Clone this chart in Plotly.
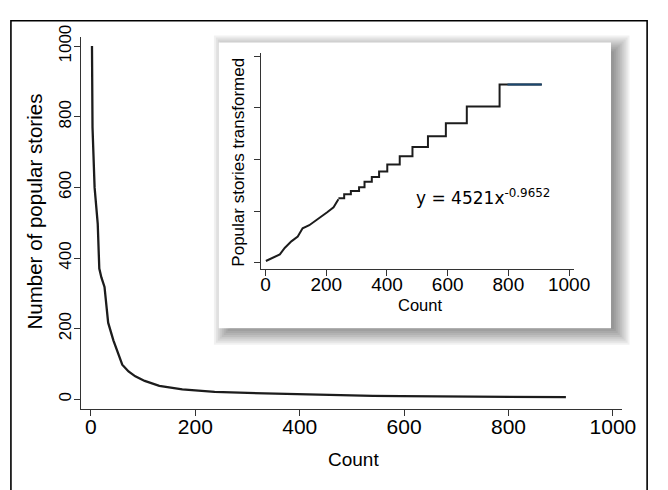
import plotly.graph_objects as go

# The page body has an 8px margin, so the figure is drawn 8px in from the
# window's corner; all pixel positions below are window positions.
PAGE_OFF = 8
W, H = 668 - PAGE_OFF, 490 - PAGE_OFF

# ---- main series: number of popular stories vs count ----
main_x = [2, 3, 7, 13, 16, 20, 26, 33, 43, 50, 60, 72, 85, 103, 131, 175, 237,
          300, 400, 484, 540, 594, 663, 771, 910]
main_y = [1000, 770, 600, 497, 370, 345, 318, 217, 167, 139, 98, 79, 65, 52, 38,
          28, 21, 18, 14, 11, 10, 9, 8, 7, 6]

# ---- inset: transformed values (smooth part, then steps) ----
inset_smooth_x = [1, 47, 63, 85, 106, 122, 144, 176, 203, 224, 240]
inset_smooth_y = [9, 41, 72, 104, 127, 167, 182, 214, 245, 269, 308]
inset_step_x = [240, 259, 281, 308, 326, 350, 374, 401, 442, 484, 535, 594, 663, 771, 910]
inset_step_y = [313, 332, 348, 366, 392, 415, 442, 476, 516, 560, 612, 675, 756, 862, 862]
fit_x = [797, 910]
fit_y = [862, 862]

x_ticks = [0, 200, 400, 600, 800, 1000]
y_ticks = [0, 200, 400, 600, 800, 1000]
inset_y_ticks = [0, 250, 500, 750, 1000]

FONT = "Liberation Sans, Arial, Helvetica, sans-serif"
LINE = "#1c1c1c"
MAIN_XR = [-18.7, 1017]
MAIN_YR = [-27.6, 1027]
INS_XR = [-16, 1016]
INS_YR = [-28, 1014]


def px(x):
    return (x - PAGE_OFF) / W


def py(y):
    return 1 - (y - PAGE_OFF) / H


fig = go.Figure()
fig.add_trace(go.Scatter(x=main_x, y=main_y, mode="lines",
                         line=dict(color=LINE, width=2.3), xaxis="x", yaxis="y",
                         showlegend=False, hoverinfo="skip"))
fig.add_trace(go.Scatter(x=inset_smooth_x, y=inset_smooth_y, mode="lines",
                         line=dict(color=LINE, width=2), xaxis="x2", yaxis="y2",
                         showlegend=False, hoverinfo="skip"))
fig.add_trace(go.Scatter(x=inset_step_x, y=inset_step_y, mode="lines",
                         line=dict(color=LINE, width=2, shape="hv"), xaxis="x2", yaxis="y2",
                         showlegend=False, hoverinfo="skip"))
fig.add_trace(go.Scatter(x=fit_x, y=fit_y, mode="lines",
                         line=dict(color="#1a476f", width=2), xaxis="x2", yaxis="y2",
                         showlegend=False, hoverinfo="skip"))
# carriers for the label-only overlay axes (invisible)
fig.add_trace(go.Scatter(x=[x_ticks[0]], y=[y_ticks[0]], mode="markers",
                         marker=dict(opacity=0), xaxis="x3", yaxis="y",
                         showlegend=False, hoverinfo="skip"))
fig.add_trace(go.Scatter(x=[x_ticks[0]], y=[y_ticks[0]], mode="markers",
                         marker=dict(opacity=0), xaxis="x", yaxis="y3",
                         showlegend=False, hoverinfo="skip"))
fig.add_trace(go.Scatter(x=[x_ticks[0]], y=[inset_y_ticks[0]], mode="markers",
                         marker=dict(opacity=0), xaxis="x4", yaxis="y2",
                         showlegend=False, hoverinfo="skip"))

shapes = []
# outer frame
shapes.append(dict(type="rect", xref="paper", yref="paper",
                   x0=px(11), x1=px(663), y0=-0.1, y1=py(8.8),
                   line=dict(color="black", width=1.6), fillcolor="rgba(0,0,0,0)",
                   layer="above"))
# shadow of the inset box
bx0, by0, bx1, by1 = 224, 31, 626, 324
ox, oy = 7, 5
for r in range(-4, 14, 2):
    shapes.append(dict(type="rect", xref="paper", yref="paper",
                       x0=px(bx0 + ox - r), x1=px(bx1 + ox + r),
                       y0=py(by1 + oy + r), y1=py(by0 + oy - r),
                       line=dict(width=0), fillcolor="rgba(0,0,0,0.055)",
                       layer="below"))
# inset box
shapes.append(dict(type="rect", xref="paper", yref="paper",
                   x0=px(bx0), x1=px(bx1), y0=py(by1), y1=py(by0),
                   line=dict(width=0), fillcolor="white", layer="below"))

annotations = [
    dict(text="Count", x=px(362), y=py(459), xref="paper", yref="paper",
         showarrow=False, font=dict(family=FONT, size=19, color="black"),
         xanchor="center", yanchor="middle"),
    dict(text="Number of popular stories", x=px(35), y=py(204), xref="paper", yref="paper",
         showarrow=False, textangle=-90, font=dict(family=FONT, size=20.5, color="black"),
         xanchor="center", yanchor="middle"),
    dict(text="Count", x=px(430), y=py(300), xref="paper", yref="paper",
         showarrow=False, font=dict(family=FONT, size=16.5, color="black"),
         xanchor="center", yanchor="middle"),
    dict(text="Popular stories transformed", x=px(244), y=py(154), xref="paper", yref="paper",
         showarrow=False, textangle=-90, font=dict(family=FONT, size=17, color="black"),
         xanchor="center", yanchor="middle"),
    dict(text="y = 4521x<sup>-0.9652</sup>", x=px(424), y=py(190), xref="paper", yref="paper",
         showarrow=False, font=dict(family="DejaVu Sans, Verdana, sans-serif", size=17, color="black"),
         xanchor="left", yanchor="middle"),
]

axis_common = dict(showgrid=False, zeroline=False, showline=True, linecolor="#333333",
                   linewidth=1, ticks="outside", ticklen=6, tickcolor="#333333",
                   tickwidth=1, fixedrange=True)
label_axis = dict(showgrid=False, zeroline=False, showline=False, ticks="",
                  fixedrange=True)

fig.update_layout(
    width=W, height=H,
    margin=dict(l=0, r=0, t=0, b=0),
    paper_bgcolor="white", plot_bgcolor="rgba(0,0,0,0)",
    showlegend=False,
    xaxis=dict(domain=[px(83), px(637)], range=MAIN_XR, tickvals=x_ticks,
               showticklabels=False, anchor="y", **axis_common),
    xaxis3=dict(domain=[px(83), px(637)], range=MAIN_XR, tickvals=x_ticks,
                tickfont=dict(family=FONT, size=21, color="black"), anchor="y",
                overlaying="x", side="bottom", ticklabelstandoff=3, **label_axis),
    yaxis=dict(domain=[py(407), py(25)], range=MAIN_YR, tickvals=y_ticks,
               showticklabels=False, anchor="x", **axis_common),
    yaxis3=dict(domain=[py(407), py(25)], range=MAIN_YR, tickvals=y_ticks,
                tickangle=-90, tickfont=dict(family=FONT, size=17, color="black"),
                anchor="x", overlaying="y", side="left", ticklabelstandoff=6,
                **label_axis),
    xaxis2=dict(domain=[px(267), px(588)], range=INS_XR, tickvals=x_ticks,
                showticklabels=False, anchor="y2", **axis_common),
    xaxis4=dict(domain=[px(267), px(588)], range=INS_XR, tickvals=x_ticks,
                tickfont=dict(family=FONT, size=19, color="black"), anchor="y2",
                overlaying="x2", side="bottom", ticklabelstandoff=2, **label_axis),
    yaxis2=dict(domain=[py(263), py(42)], range=INS_YR, tickvals=inset_y_ticks,
                showticklabels=False, anchor="x2", **axis_common),
    shapes=shapes,
    annotations=annotations,
)

fig.write_html("out.html")
